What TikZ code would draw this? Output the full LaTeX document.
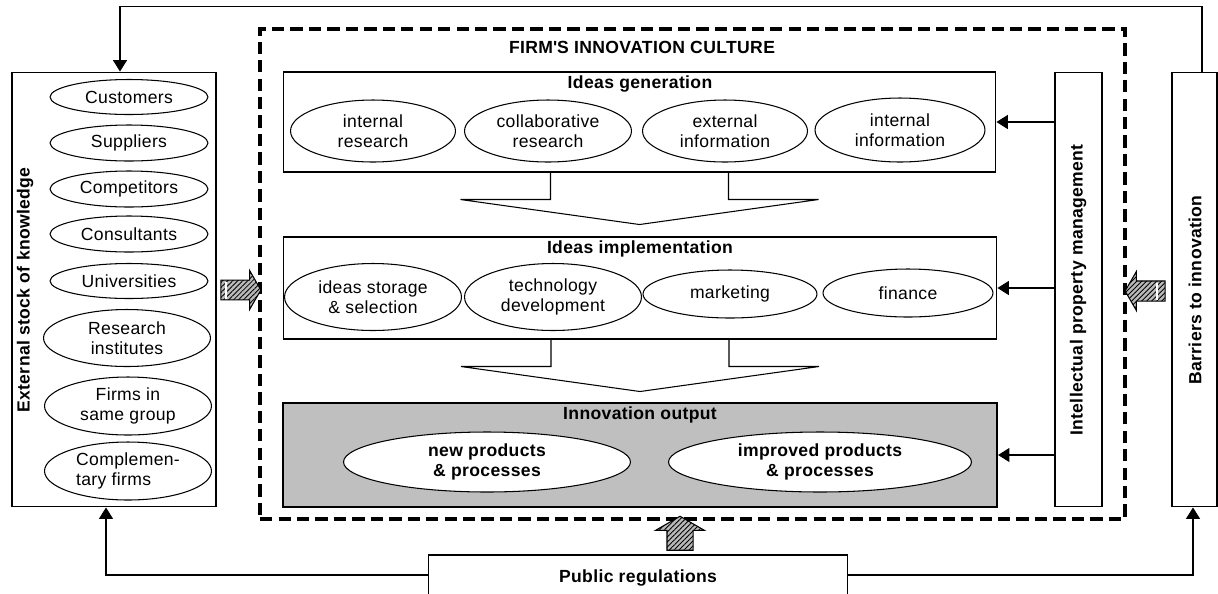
\documentclass[tikz,border=0pt]{standalone}
\usepackage{fontspec}
\setmainfont[LetterSpace=2]{Liberation Sans}
\usetikzlibrary{shapes.geometric,shapes.arrows,arrows.meta,patterns.meta}

\tikzset{
	box/.style={draw, line width=0.6pt, inner sep=0pt},
	oval/.style={draw, ellipse, line width=0.6pt, inner sep=0pt, align=center,
		font=\fontsize{10}{11.5}\selectfont},
	heading/.style={font=\fontsize{10}{12}\selectfont\bfseries},
	link/.style={line width=0.6pt, -{Triangle[length=6.5pt,width=8pt]}},
	bigarrow/.style={single arrow, draw, line width=0.6pt, inner xsep=0pt,
		inner ysep=0.19cm, single arrow head extend=0.19cm, single arrow tip angle=120,
		preaction={fill=gray!55}, pattern={Lines[angle=45,distance=2pt,line width=0.5pt]}},
}

\begin{document}
\begin{tikzpicture}[x=0.02cm, y=-0.02cm]
\useasboundingbox (0,0) rectangle (1218,593);

% external stock of knowledge
\node[box, minimum width=4.08cm, minimum height=8.7cm] (ext) at (114,289.5) {};
\node[heading, rotate=90] (extlabel) at (25,290) {External stock of knowledge};
\node[oval, minimum width=3.16cm, minimum height=0.7cm] (cust) at (129,97) {Customers};
\node[oval, minimum width=3.16cm, minimum height=0.72cm] (supp) at (129,143) {Suppliers};
\node[oval, minimum width=3.16cm, minimum height=0.72cm] (comp) at (129,189) {Competitors};
\node[oval, minimum width=3.16cm, minimum height=0.72cm] (cons) at (129,234) {Consultants};
\node[oval, minimum width=3.16cm, minimum height=0.7cm] (univ) at (129,281) {Universities};
\node[oval, minimum width=3.34cm, minimum height=1.14cm] (inst) at (127,338) {Research\\institutes};
\node[oval, minimum width=3.34cm, minimum height=1.16cm] (group) at (128,406) {Firms in\\same group};
\node[oval, minimum width=3.34cm, minimum height=1.16cm, align=left] (compl) at (128,471) {Complemen-\\tary firms};

% firm's innovation culture
\node[draw, line width=2pt, dash pattern=on 7pt off 3.5pt, minimum width=17.3cm,
	minimum height=9.8cm] (culture) at (692.5,274) {};
\node[heading] (culturelabel) at (642,47) {FIRM\textquotesingle S INNOVATION CULTURE};

\node[box, minimum width=14.26cm, minimum height=2cm] (gen) at (639.5,122) {};
\node[heading] (genlabel) at (640,84) {Ideas generation};
\node[oval, minimum width=3.3cm, minimum height=1.24cm] (intres) at (373,131) {internal\\research};
\node[oval, minimum width=3.34cm, minimum height=1.24cm] (colres) at (548,131) {collaborative\\research};
\node[oval, minimum width=3.3cm, minimum height=1.24cm] (extinf) at (725,131) {external\\information};
\node[oval, minimum width=3.4cm, minimum height=1.28cm] (intinf) at (900,130) {internal\\information};

\node[box, minimum width=14.28cm, minimum height=2.04cm] (impl) at (640,288) {};
\node[heading] (impllabel) at (640,249) {Ideas implementation};
\node[oval, minimum width=3.54cm, minimum height=1.34cm] (store) at (373,297) {ideas storage\\\& selection};
\node[oval, minimum width=3.54cm, minimum height=1.34cm] (tech) at (553,297) {technology\\development};
\node[oval, minimum width=3.48cm, minimum height=0.96cm] (mark) at (730,294) {marketing};
\node[oval, minimum width=3.4cm, minimum height=0.96cm] (fin) at (908,293) {finance};

\node[box, line width=1.3pt, fill=gray!50, minimum width=14.28cm, minimum height=2.08cm] (out) at (640,455) {};
\node[heading] (outlabel) at (640,415) {Innovation output};
\node[oval, font=\fontsize{10}{11.5}\selectfont\bfseries, fill=white, minimum width=5.74cm,
	minimum height=1.2cm] (newp) at (487,462) {new products\\\& processes};
\node[oval, font=\fontsize{10}{11.5}\selectfont\bfseries, fill=white, minimum width=6.06cm,
	minimum height=1.2cm] (impp) at (820,462) {improved products\\\& processes};

% funnels between the stages
\foreach \n in {gen,impl}
	\draw[line width=0.6pt] ([xshift=-1.78cm]\n.south) -- ++(0,27) -- ++(-90,0) -- ++(179,25)
		-- ++(179,-25) -- ++(-90,0) -- ++(0,-27);

% side boxes
\node[box, minimum width=0.94cm, minimum height=8.7cm] (ip) at (1078.5,289.5) {};
\node[heading, rotate=90] (iplabel) at (1078,290) {Intellectual property management};
\node[box, minimum width=0.9cm, minimum height=8.7cm] (barr) at (1194.5,289.5) {};
\node[heading, rotate=90] (barrlabel) at (1195,290) {Barriers to innovation};
\node[box, heading, minimum width=8.4cm, minimum height=0.92cm] (pub) at (638,578) {Public regulations};

% connectors
\foreach \n in {gen,impl,out}
	\draw[link] (ip.west |- \n.east) -- (\n.east);
\draw[link] ([xshift=0.15cm]barr.north) -- ++(0,-65) -| ([xshift=0.12cm]ext.north);
\draw[link] ([yshift=0.06cm]pub.west) -| ([xshift=-0.16cm]ext.south);
\draw[link] ([yshift=0.06cm]pub.east) -| ([xshift=-0.03cm]barr.south);

% hatched arrows
\node[bigarrow, minimum height=0.8cm] (inarr) at (238,290) {};
\draw[white, line width=0.8pt] ([xshift=-0.24cm,yshift=-0.17cm]inarr.center) -- ++(0,-17);
\node[bigarrow, minimum height=0.8cm, rotate=180] (barrarr) at (1148,291) {};
\draw[white, line width=0.8pt] ([xshift=0.18cm,yshift=-0.17cm]barrarr.center) -- ++(0,-17);
\node[bigarrow, minimum height=0.68cm, rotate=90, inner ysep=0.25cm,
	single arrow head extend=0.23cm] (pubarr) at (680,537) {};
\end{tikzpicture}
\end{document}
